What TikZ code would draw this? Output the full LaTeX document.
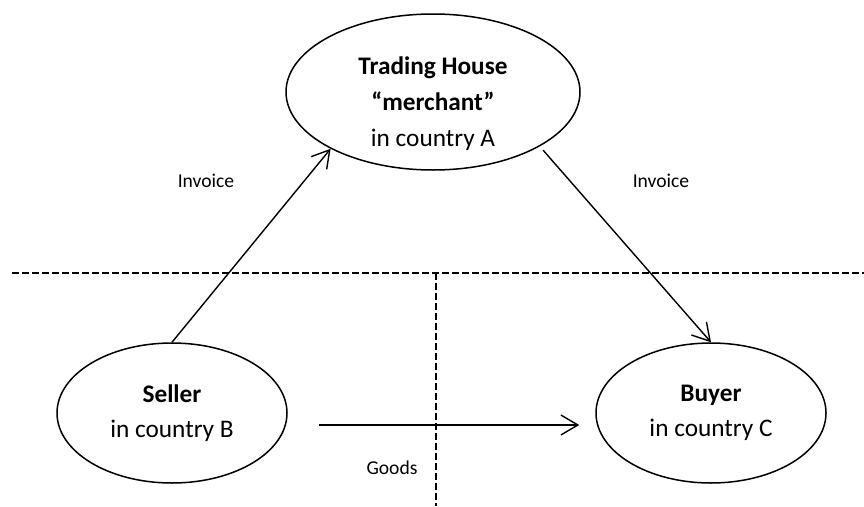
\documentclass[tikz,border=0pt]{standalone}
\usepackage{fontspec}
\setmainfont{Carlito}
\usetikzlibrary{arrows.meta,shapes.geometric}

\tikzset{
    party/.style={draw, ellipse, line width=1.5pt, inner sep=0pt, align=center, font=\fontsize{25.3}{35}\selectfont},
    partytext/.style={align=center, font=\fontsize{25.3}{36}\selectfont},
    flow/.style={line width=1.4pt, -{Straight Barb[length=17pt,width=20pt,line width=1.4pt]}},
    border/.style={line width=1.4pt, dash pattern=on 6.5pt off 3.5pt},
    tag/.style={font=\fontsize{19.6}{22}\selectfont}
}

\begin{document}
\begin{tikzpicture}[x=1pt, y=-1pt]
    \useasboundingbox (0,0) rectangle (864,506);
    \coordinate (west end) at (12,273);
    \coordinate (east end) at (864,273);
    \coordinate (split top) at (436,273);
    \coordinate (split bottom) at (436,506);
    \draw[border] (west end) -- (east end);
    \draw[border] (split top) -- (split bottom);

    \node[party, minimum width=294pt, minimum height=156pt] (house) at (433,92) {};
    \node[partytext] (house text) at (433,104) {\textbf{Trading House}\\\textbf{“merchant”}\\in country A};
    \node[party, minimum width=230pt, minimum height=140pt] (seller) at (172,413) {\textbf{Seller}\\in country B};
    \node[party, minimum width=230pt, minimum height=140pt] (buyer) at (711,413) {\textbf{Buyer}\\in country C};

    \draw[flow] (seller.north) -- (house.209);
    \draw[flow, shorten <=5pt] (house.333) -- (buyer.north);
    \draw[flow] ([xshift=31pt,yshift=-12pt]seller.east) -- ([xshift=-16pt,yshift=-12pt]buyer.west);

    \node[tag] (invoice in) at (206,181) {Invoice};
    \node[tag] (invoice out) at (661,181) {Invoice};
    \node[tag] (goods) at (392,468) {Goods};
\end{tikzpicture}
\end{document}
